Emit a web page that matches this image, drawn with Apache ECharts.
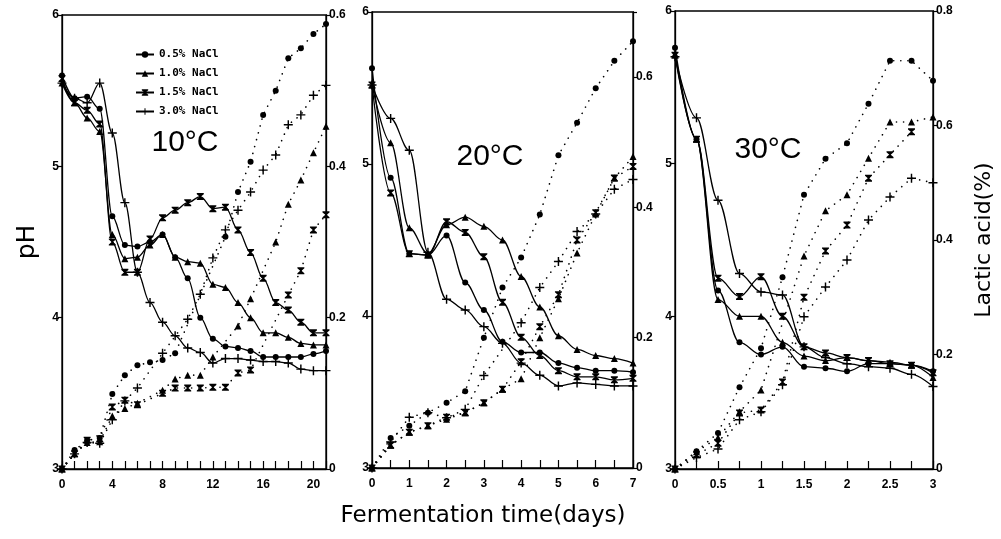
<!DOCTYPE html>
<html>
<head>
<meta charset="utf-8">
<script src="https://cdn.jsdelivr.net/npm/echarts@6/dist/echarts.min.js"></script>
<style>html,body{margin:0;background:#fff}#chart{width:1001px;height:539px}</style>
</head>
<body>
<div id="chart"></div>
<script>
// series names (legend)
var nacl = ['0.5% NaCl', '1.0% NaCl', '1.5% NaCl', '3.0% NaCl'];
var temps = ['10°C', '20°C', '30°C'];

// 10°C - pH, one value per day
var days10 = [0,1,2,3,4,5,6,7,8,9,10,11,12,13,14,15,16,17,18,19,20,21];
var ph10_05 = [5.60,5.45,5.46,5.38,4.67,4.48,4.47,4.50,4.55,4.40,4.26,4.00,3.86,3.81,3.80,3.78,3.74,3.74,3.74,3.74,3.76,3.78];
var ph10_10 = [5.55,5.42,5.32,5.23,4.55,4.39,4.40,4.48,4.55,4.40,4.37,4.36,4.22,4.20,4.10,4.00,3.90,3.90,3.87,3.83,3.82,3.82];
var ph10_15 = [5.58,5.42,5.37,5.28,4.50,4.30,4.30,4.52,4.66,4.71,4.76,4.80,4.72,4.73,4.58,4.43,4.26,4.10,4.05,3.97,3.90,3.90];
var ph10_30 = [5.55,5.45,5.42,5.55,5.22,4.76,4.30,4.10,3.97,3.88,3.80,3.77,3.70,3.73,3.73,3.72,3.71,3.71,3.70,3.66,3.65,3.65];
// 10°C - lactic acid [day, %]
var lac10_05 = [[0,0],[1,0.025],[2,0.038],[3,0.041],[4,0.099],[5,0.124],[6,0.137],[7,0.141],[8,0.144],[9,0.153],[13,0.307],[14,0.366],[15,0.406],[16,0.468],[17,0.50],[18,0.543],[19,0.556],[20,0.575],[21,0.588]];
var lac10_10 = [[0,0],[1,0.02],[2,0.035],[3,0.036],[4,0.07],[5,0.08],[6,0.087],[8,0.104],[9,0.119],[10,0.124],[11,0.124],[12,0.148],[14,0.189],[15,0.225],[17,0.30],[18,0.35],[19,0.382],[20,0.418],[21,0.453]];
var lac10_15 = [[0,0],[1,0.02],[2,0.038],[3,0.04],[4,0.082],[5,0.091],[6,0.085],[8,0.10],[9,0.107],[10,0.107],[11,0.107],[12,0.108],[13,0.108],[14,0.127],[15,0.131],[18,0.23],[19,0.262],[20,0.316],[21,0.336]];
var lac10_30 = [[0,0],[1,0.02],[2,0.035],[3,0.034],[4,0.065],[5,0.09],[6,0.107],[8,0.153],[10,0.198],[11,0.231],[12,0.279],[13,0.316],[14,0.342],[15,0.366],[16,0.395],[17,0.415],[18,0.455],[19,0.468],[20,0.494],[21,0.507]];

// 20°C - pH, every half day
var days20 = [0,0.5,1,1.5,2,2.5,3,3.5,4,4.5,5,5.5,6,6.5,7];
var ph20_05 = [5.63,4.91,4.41,4.40,4.53,4.22,4.04,3.83,3.76,3.76,3.69,3.66,3.64,3.64,3.63];
var ph20_10 = [5.52,5.14,4.58,4.41,4.60,4.65,4.59,4.50,4.26,4.06,3.87,3.78,3.74,3.72,3.69];
var ph20_15 = [5.52,4.81,4.41,4.40,4.62,4.55,4.39,4.09,3.86,3.74,3.64,3.60,3.60,3.58,3.59];
var ph20_30 = [5.52,5.30,5.09,4.42,4.11,4.04,3.93,3.82,3.69,3.61,3.54,3.56,3.55,3.54,3.54];
var lac20_05 = [[0,0],[0.5,0.046],[1,0.065],[1.5,0.085],[2,0.10],[2.5,0.118],[3,0.20],[3.5,0.277],[4,0.323],[4.5,0.389],[5,0.48],[5.5,0.53],[6,0.583],[6.5,0.625],[7,0.655]];
var lac20_10 = [[0,0],[0.5,0.035],[1,0.055],[1.5,0.065],[2,0.075],[2.5,0.085],[3,0.10],[3.5,0.121],[4,0.137],[4.5,0.20],[5,0.26],[5.5,0.33],[6,0.39],[6.5,0.445],[7,0.478]];
var lac20_15 = [[0,0],[0.5,0.035],[1,0.055],[1.5,0.065],[2,0.078],[2.5,0.085],[3,0.10],[3.5,0.121],[4,0.163],[4.5,0.217],[5,0.266],[5.5,0.35],[6,0.392],[6.5,0.445],[7,0.463]];
var lac20_30 = [[0,0],[0.5,0.04],[1,0.078],[1.5,0.085],[2,0.077],[2.5,0.09],[3,0.142],[4,0.223],[4.5,0.277],[5,0.317],[5.5,0.363],[6,0.39],[6.5,0.428],[7,0.443]];

// 30°C - pH, every quarter day
var days30 = [0,0.25,0.5,0.75,1,1.25,1.5,1.75,2,2.25,2.5,2.75,3];
var ph30_05 = [5.76,5.16,4.17,3.83,3.75,3.80,3.67,3.66,3.64,3.69,3.69,3.68,3.64];
var ph30_10 = [5.72,5.16,4.11,4.00,4.00,3.83,3.74,3.71,3.73,3.71,3.70,3.68,3.60];
var ph30_15 = [5.71,5.16,4.25,4.13,4.26,4.00,3.80,3.76,3.73,3.71,3.69,3.68,3.63];
var ph30_30 = [5.70,5.30,4.76,4.28,4.16,4.14,3.80,3.73,3.69,3.67,3.66,3.62,3.54];
var lac30_05 = [[0,0],[0.25,0.031],[0.5,0.063],[0.75,0.143],[1,0.211],[1.25,0.335],[1.5,0.479],[1.75,0.542],[2,0.569],[2.25,0.638],[2.5,0.713],[2.75,0.713],[3,0.678]];
var lac30_10 = [[0,0],[0.25,0.03],[0.5,0.055],[0.75,0.10],[1,0.138],[1.5,0.372],[1.75,0.451],[2,0.479],[2.25,0.543],[2.5,0.606],[2.75,0.606],[3,0.615]];
var lac30_15 = [[0,0],[0.25,0.025],[0.5,0.045],[0.75,0.098],[1,0.103],[1.25,0.152],[1.5,0.30],[1.75,0.381],[2,0.426],[2.25,0.508],[2.5,0.549],[2.75,0.589]];
var lac30_30 = [[0,0],[0.25,0.02],[0.5,0.035],[0.75,0.086],[1,0.10],[1.25,0.147],[1.5,0.266],[1.75,0.318],[2,0.365],[2.25,0.435],[2.5,0.475],[2.75,0.508],[3,0.50]];

var symbols = ['circle', 'triangle',
    'path://M0,0L10,0L10,1.6L6,5L10,8.4L10,10L0,10L0,8.4L4,5L0,1.6Z',
    'path://M4.2,0h1.6v4.2h4.2v1.6h-4.2v4.2h-1.6v-4.2h-4.2v-1.6h4.2z'];
var symSizes = [6, 7, 7, 9];

var FONT = 'Liberation Sans';

var panels = [
    {days: days10, ph: [ph10_05, ph10_10, ph10_15, ph10_30], lac: [lac10_05, lac10_10, lac10_15, lac10_30]},
    {days: days20, ph: [ph20_05, ph20_10, ph20_15, ph20_30], lac: [lac20_05, lac20_10, lac20_15, lac20_30]},
    {days: days30, ph: [ph30_05, ph30_10, ph30_15, ph30_30], lac: [lac30_05, lac30_10, lac30_15, lac30_30]}
];

var grids = [
    {left: 62, top: 15, width: 264, height: 454},
    {left: 372, top: 12, width: 261, height: 456},
    {left: 675, top: 11, width: 258, height: 458}
];
grids.forEach(function (g) {
    g.show = true;
    g.borderColor = '#000';
    g.borderWidth = 1.3;
    g.backgroundColor = 'transparent';
    g.outerBoundsMode = 'none';
    g.containLabel = false;
});

function isMult(v, step) {
    var r = v / step;
    return Math.abs(r - Math.round(r)) < 1e-6;
}

var xCfg = [
    {max: 21, interval: 1, lab: 4},
    {max: 7, interval: 0.5, lab: 1},
    {max: 3, interval: 0.25, lab: 0.5}
];
var xAxes = xCfg.map(function (c, i) {
    return {
        type: 'value', gridIndex: i, min: 0, max: c.max, interval: c.interval,
        axisLine: {lineStyle: {color: '#000', width: 1.3}},
        axisTick: {inside: true, length: 8, lineStyle: {color: '#000', width: 1.2}},
        splitLine: {show: false},
        axisLabel: {
            color: '#000', fontFamily: FONT, fontWeight: 'bold', fontSize: 12, margin: 10,
            showMaxLabel: true,
            formatter: function (v) { return isMult(v, c.lab) ? String(v) : ''; }
        }
    };
});

var rightMax = [0.6, 0.7, 0.8];
var yAxes = [];
rightMax.forEach(function (m, i) {
    yAxes.push({
        type: 'value', gridIndex: i, position: 'left', min: 3, max: 6, interval: 1,
        axisLine: {show: true, lineStyle: {color: '#000', width: 1.3}},
        axisTick: {show: true, length: 4, lineStyle: {color: '#000', width: 1.2}},
        splitLine: {show: false},
        axisLabel: {color: '#000', fontFamily: FONT, fontWeight: 'bold', fontSize: 12, margin: 3},
        name: i === 0 ? 'pH' : '',
        nameLocation: 'middle', nameGap: 22, nameRotate: 90,
        nameTextStyle: {color: '#000', fontFamily: 'DejaVu Sans', fontSize: 25}
    });
    yAxes.push({
        type: 'value', gridIndex: i, position: 'right', min: 0, max: m, interval: 0.2,
        axisLine: {show: true, lineStyle: {color: '#000', width: 1.3}},
        axisTick: {show: true, length: 4, lineStyle: {color: '#000', width: 1.2}},
        splitLine: {show: false},
        axisLabel: {
            color: '#000', fontFamily: FONT, fontWeight: 'bold', fontSize: 12, margin: 3,
            formatter: function (v) { return isMult(v, 0.2) ? String(+v.toFixed(1)) : ''; }
        },
        name: i === 2 ? 'Lactic acid(%)' : '',
        nameLocation: 'middle', nameGap: 40, nameRotate: 90,
        nameTextStyle: {color: '#000', fontFamily: 'DejaVu Sans', fontSize: 22}
    });
});

var series = [];
// pH curves first so the legend takes their solid line style
panels.forEach(function (p, g) {
    p.ph.forEach(function (vals, k) {
        series.push({
            name: nacl[k], type: 'line', xAxisIndex: g, yAxisIndex: g * 2,
            data: p.days.map(function (d, j) { return [d, vals[j]]; }),
            smooth: 0.35, smoothMonotone: 'x',
            symbol: symbols[k], symbolSize: symSizes[k], symbolKeepAspect: true,
            lineStyle: {color: '#000', width: 1.3},
            itemStyle: {color: '#000'}
        });
    });
});
panels.forEach(function (p, g) {
    p.lac.forEach(function (pts, k) {
        series.push({
            name: nacl[k], type: 'line', xAxisIndex: g, yAxisIndex: g * 2 + 1,
            data: pts,
            symbol: symbols[k], symbolSize: symSizes[k], symbolKeepAspect: true,
            lineStyle: {color: '#000', width: 1.6, type: [0.1, 7], cap: 'round'},
            itemStyle: {color: '#000'}
        });
    });
});

var tempPos = [[185, 143], [490, 157], [768, 150]];
var graphics = temps.map(function (t, i) {
    return {
        type: 'text', x: tempPos[i][0], y: tempPos[i][1],
        style: {text: t, fill: '#000', font: '30px "Liberation Sans"', textAlign: 'center', textVerticalAlign: 'middle'}
    };
});
graphics.push({
    type: 'text', x: 483, y: 516,
    style: {text: 'Fermentation time(days)', fill: '#000', font: '23px "DejaVu Sans"', textAlign: 'center', textVerticalAlign: 'middle'}
});

var myChart = echarts.init(document.getElementById('chart'));
var option = {
    animation: false,
    backgroundColor: '#fff',
    legend: {
        data: nacl, orient: 'vertical', left: 130, top: 44,
        itemWidth: 18, itemHeight: 8, itemGap: 8,
        textStyle: {color: '#000', fontFamily: 'DejaVu Sans Mono', fontWeight: 'bold', fontSize: 11}
    },
    grid: grids,
    xAxis: xAxes,
    yAxis: yAxes,
    series: series,
    graphic: graphics
};
myChart.setOption(option);
</script>
</body>
</html>
